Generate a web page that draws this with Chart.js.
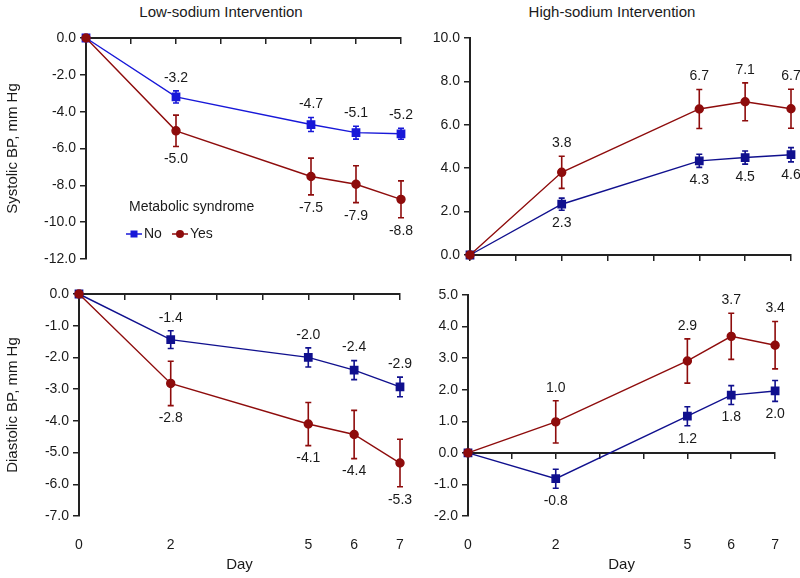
<!DOCTYPE html>
<html>
<head>
<meta charset="utf-8">
<script src="https://cdn.jsdelivr.net/npm/chart.js@4.4.1/dist/chart.umd.min.js"></script>
<style>
  body { margin: 0; background: #fff; width: 800px; height: 578px; position: relative; overflow: hidden;
         font-family: "Liberation Sans", Arial, sans-serif; color: #1a1a1a; }
  canvas { position: absolute; }
  .ttl { position: absolute; top: 3px; font-size: 15px; transform: translateX(-50%); white-space: nowrap; }
</style>
</head>
<body>
<div class="ttl" style="left:221px">Low-sodium Intervention</div>
<div class="ttl" style="left:612px">High-sodium Intervention</div>
<canvas id="sysLow" width="430" height="280" style="left:0;top:0"></canvas>
<canvas id="sysHigh" width="400" height="280" style="left:400px;top:0"></canvas>
<canvas id="diaLow" width="430" height="298" style="left:0;top:280px"></canvas>
<canvas id="diaHigh" width="400" height="298" style="left:400px;top:280px"></canvas>
<script>
// data
const days = [0, 2, 5, 6, 7];
const dayTickLabels = [0, 2, 5, 6, 7];
const seriesNames = ["No", "Yes"];
const legendTitle = "Metabolic syndrome";

const sysLowNo = [0, -3.2, -4.7, -5.14, -5.2];
const sysLowNoErr = [0, 0.33, 0.38, 0.35, 0.3];
const sysLowYes = [0, -5.04, -7.52, -7.94, -8.76];
const sysLowYesErr = [0, 0.85, 1.0, 1.0, 1.0];

const sysHighNo = [0, 2.34, 4.34, 4.49, 4.62];
const sysHighNoErr = [0, 0.28, 0.3, 0.3, 0.33];
const sysHighYes = [0, 3.81, 6.73, 7.06, 6.74];
const sysHighYesErr = [0, 0.74, 0.9, 0.87, 0.9];

const diaLowNo = [0, -1.44, -2.0, -2.4, -2.93];
const diaLowNoErr = [0, 0.28, 0.3, 0.3, 0.31];
const diaLowYes = [0, -2.82, -4.1, -4.43, -5.33];
const diaLowYesErr = [0, 0.7, 0.68, 0.76, 0.75];

const diaHighNo = [0, -0.82, 1.16, 1.83, 1.96];
const diaHighNoErr = [0, 0.3, 0.3, 0.3, 0.33];
const diaHighYes = [0, 0.98, 2.91, 3.69, 3.41];
const diaHighYesErr = [0, 0.67, 0.7, 0.73, 0.75];

const FONT = '"Liberation Sans", Arial, sans-serif';
const TEXT = "#1a1a1a";
const AXIS = "#222";
const RED = "#8e0c0c";
const NAVY = "#10108e";
const BLUE = "#1818d8";

Chart.defaults.font.family = FONT;
Chart.defaults.color = TEXT;

// error bars drawn under the lines/markers
const errorBars = {
    id: "errorBars",
    beforeDatasetsDraw(chart) {
        const ctx = chart.ctx, ys = chart.scales.y;
        chart.data.datasets.forEach((ds, i) => {
            chart.getDatasetMeta(i).data.forEach((pt, j) => {
                const e = ds.errors[j];
                if (!e) return;
                const v = ds.data[j].y;
                const top = ys.getPixelForValue(v + e), bot = ys.getPixelForValue(v - e);
                ctx.save();
                ctx.strokeStyle = ds.borderColor;
                ctx.lineWidth = 1.6;
                ctx.beginPath();
                ctx.moveTo(pt.x, top); ctx.lineTo(pt.x, bot);
                ctx.moveTo(pt.x - 3, top); ctx.lineTo(pt.x + 3, top);
                ctx.moveTo(pt.x - 3, bot); ctx.lineTo(pt.x + 3, bot);
                ctx.stroke();
                ctx.restore();
            });
        });
    }
};

// value labels beyond the end of each error bar
const valueLabels = {
    id: "valueLabels",
    afterDatasetsDraw(chart) {
        const ctx = chart.ctx, ys = chart.scales.y;
        ctx.save();
        ctx.font = "14px " + FONT;
        ctx.fillStyle = TEXT;
        ctx.textAlign = "center";
        ctx.textBaseline = "middle";
        chart.data.datasets.forEach((ds, i) => {
            const up = ds.labelSide === "above";
            chart.getDatasetMeta(i).data.forEach((pt, j) => {
                if (ds.data[j].x === 0) return;
                const v = ds.data[j].y, e = ds.errors[j];
                const y = up ? ys.getPixelForValue(v + e) - 13 : ys.getPixelForValue(v - e) + 13;
                ctx.fillText(v.toFixed(1), pt.x, y);
            });
        });
        ctx.restore();
    }
};

// legend inside the top-left panel
const legendBox = {
    id: "legendBox",
    afterDraw(chart) {
        const ctx = chart.ctx, a = chart.chartArea;
        const x0 = a.left + 43, y0 = a.top + 169;
        ctx.save();
        ctx.font = "14px " + FONT;
        ctx.fillStyle = TEXT;
        ctx.textAlign = "left";
        ctx.textBaseline = "middle";
        ctx.fillText(legendTitle, x0, y0);
        const y1 = y0 + 27;
        const dsNo = chart.data.datasets.find(d => d.label === seriesNames[0]);
        const dsYes = chart.data.datasets.find(d => d.label === seriesNames[1]);
        [[dsNo, x0 - 3], [dsYes, x0 + 43]].forEach(([ds, lx]) => {
            ctx.strokeStyle = ds.borderColor;
            ctx.fillStyle = ds.pointBackgroundColor;
            ctx.lineWidth = 1.5;
            ctx.beginPath(); ctx.moveTo(lx, y1); ctx.lineTo(lx + 16, y1); ctx.stroke();
            if (ds.pointStyle === "rect") {
                ctx.fillRect(lx + 4.5, y1 - 3.5, 7, 7);
            } else {
                ctx.beginPath(); ctx.arc(lx + 8, y1, 4, 0, Math.PI * 2); ctx.fill();
            }
            ctx.fillStyle = TEXT;
            ctx.fillText(ds.label, lx + 18, y1 + 0.5);
        });
        ctx.restore();
    }
};

function series(label, values, errors, color, style, side) {
    return {
        label: label,
        data: days.map((d, i) => ({ x: d, y: values[i] })),
        errors: errors,
        labelSide: side,
        borderColor: color,
        backgroundColor: color,
        pointBackgroundColor: color,
        pointBorderColor: color,
        pointStyle: style,
        pointRadius: style === "rect" ? 5.2 : 4,
        borderWidth: 1.4,
        tension: 0,
        clip: false,
        order: label === "Yes" ? 0 : 1
    };
}

function makePanel(id, p) {
    const scales = {
        x: {
            type: "linear",
            position: { y: 0 },
            min: 0, max: 7,
            ticks: { display: false, stepSize: 1 },
            grid: { drawOnChartArea: false, drawTicks: true, tickLength: 5, color: AXIS, lineWidth: 1.5 },
            border: { color: AXIS, width: 2 }
        },
        y: {
            type: "linear",
            position: "left",
            min: p.yMin, max: p.yMax,
            ticks: { stepSize: p.yStep, padding: 4, font: { size: 14 }, color: TEXT,
                     callback: v => v.toFixed(1) },
            grid: { drawOnChartArea: false, drawTicks: true, tickLength: 6, color: AXIS, lineWidth: 1.5 },
            border: { color: AXIS, width: 2 },
            title: { display: !!p.yTitle, text: p.yTitle, font: { size: 15 }, color: TEXT },
            afterFit: s => { s.width = p.yWidth; }
        }
    };
    if (p.showDays) {
        scales.xd = {
            type: "linear",
            position: "bottom",
            min: 0, max: 7,
            afterBuildTicks: s => { s.ticks = dayTickLabels.map(v => ({ value: v })); },
            ticks: { padding: 21, font: { size: 14 }, color: TEXT, autoSkip: false },
            grid: { display: false, drawTicks: false },
            border: { display: false },
            title: { display: true, text: "Day", font: { size: 15 }, color: TEXT },
            afterFit: s => { s.height = 62; }
        };
    }
    const plugins = [errorBars, valueLabels];
    if (p.legend) plugins.push(legendBox);
    return new Chart(document.getElementById(id), {
        type: "line",
        data: { datasets: p.datasets },
        options: {
            responsive: false,
            animation: false,
            layout: { padding: p.padding },
            plugins: { legend: { display: false }, tooltip: { enabled: false } },
            scales: scales
        },
        plugins: plugins
    });
}

makePanel("sysLow", {
    yMin: -12, yMax: 0, yStep: 2, yWidth: 86, yTitle: "Systolic BP, mm Hg",
    padding: { top: 38, right: 29, bottom: 21, left: 0 }, legend: true,
    datasets: [
        series(seriesNames[0], sysLowNo, sysLowNoErr, BLUE, "rect", "above"),
        series(seriesNames[1], sysLowYes, sysLowYesErr, RED, "circle", "below")
    ]
});

makePanel("sysHigh", {
    yMin: 0, yMax: 10, yStep: 2, yWidth: 70,
    padding: { top: 38, right: 9, bottom: 25, left: 0 },
    datasets: [
        series(seriesNames[0], sysHighNo, sysHighNoErr, NAVY, "rect", "below"),
        series(seriesNames[1], sysHighYes, sysHighYesErr, RED, "circle", "above")
    ]
});

makePanel("diaLow", {
    yMin: -7, yMax: 0, yStep: 1, yWidth: 79, yTitle: "Diastolic BP, mm Hg", showDays: true,
    padding: { top: 14, right: 30, bottom: 0, left: 0 },
    datasets: [
        series(seriesNames[0], diaLowNo, diaLowNoErr, NAVY, "rect", "above"),
        series(seriesNames[1], diaLowYes, diaLowYesErr, RED, "circle", "below")
    ]
});

makePanel("diaHigh", {
    yMin: -2, yMax: 5, yStep: 1, yWidth: 68, showDays: true,
    padding: { top: 15, right: 9, bottom: 0, left: 0 },
    datasets: [
        series(seriesNames[0], diaHighNo, diaHighNoErr, NAVY, "rect", "below"),
        series(seriesNames[1], diaHighYes, diaHighYesErr, RED, "circle", "above")
    ]
});
</script>
</body>
</html>
